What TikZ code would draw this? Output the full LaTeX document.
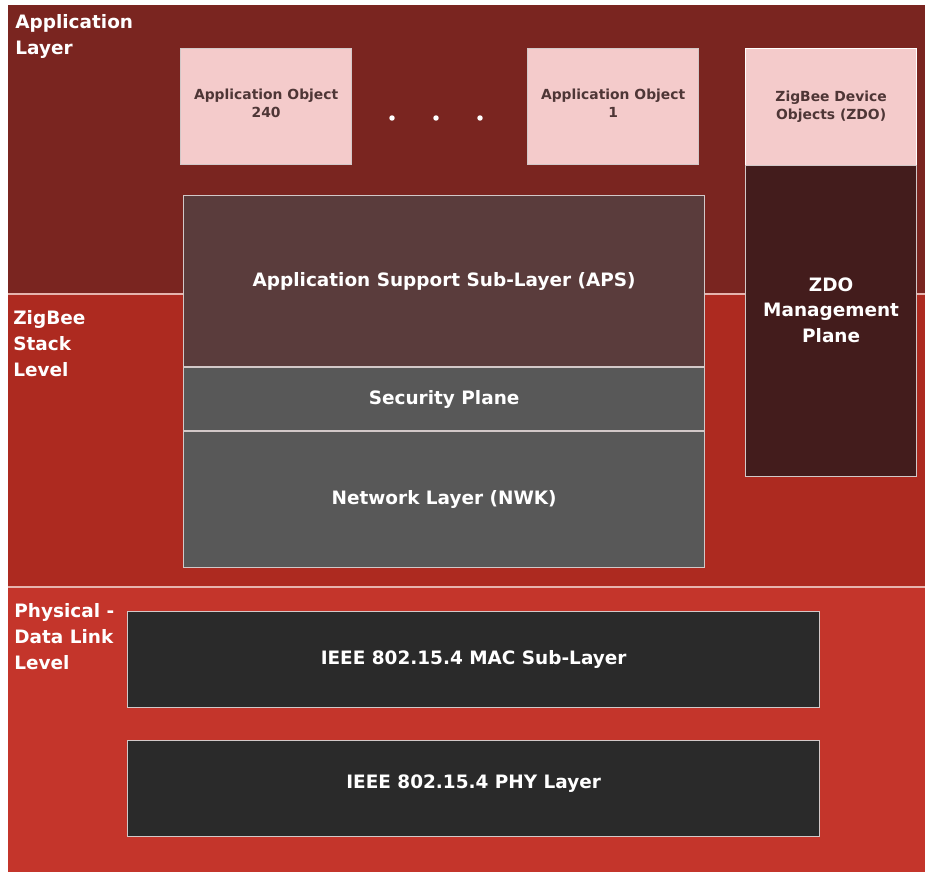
\documentclass[tikz,border=0pt]{standalone}
\usepackage{fontspec}
\setmainfont{DejaVu Sans}
\usepackage{xcolor}
\usepackage{tikz}
\usetikzlibrary{calc}
\definecolor{appbg}{HTML}{7A2520}
\definecolor{stackbg}{HTML}{AD2A20}
\definecolor{physbg}{HTML}{C4352B}
\definecolor{objfill}{HTML}{F4CBCB}
\definecolor{objtext}{HTML}{4E3636}
\definecolor{apsfill}{HTML}{5A3C3C}
\definecolor{nwkfill}{HTML}{585858}
\definecolor{mgmtfill}{HTML}{431C1C}
\definecolor{macfill}{HTML}{2A2A2A}
\definecolor{edge}{HTML}{D2C8C8}
\definecolor{seam}{HTML}{E6B4AE}
\tikzset{
  sep/.style={draw=seam, line width=0.5mm},
  box/.style={draw=edge, line width=0.25mm, anchor=north west, inner sep=0pt, align=center},
  obj/.style={box, fill=objfill, text=objtext, font=\fontsize{7.9}{10.2}\selectfont\bfseries,
    minimum width=34.2mm, minimum height=23.2mm},
  stack/.style={box, text=white, font=\fontsize{10.5}{14.7}\selectfont\bfseries, minimum width=104.2mm},
  link/.style={box, fill=macfill, text=white, font=\fontsize{10.5}{14.7}\selectfont\bfseries,
    minimum width=138.4mm, minimum height=19.1mm},
  dot/.style={circle, fill=white, inner sep=1.1pt},
  lab/.style={anchor=north west, inner sep=0pt, align=left, text=white,
    font=\fontsize{10.5}{14.7}\selectfont\bfseries},
  mlab/.style={inner sep=0pt, align=center, text=white,
    font=\fontsize{10.5}{14.7}\selectfont\bfseries},
}
\begin{document}
\begin{tikzpicture}[x=0.2mm, y=-0.2mm]
  \fill[white] (0,0) rectangle (925,872);
  \useasboundingbox (0,0) rectangle (925,872);
  % three levels
  \fill[appbg] (8,5) rectangle (925,294);
  \fill[stackbg] (8,294) rectangle (925,587);
  \fill[physbg] (8,587) rectangle (925,872);
  \draw[sep] (8,294) -- (925,294);
  \draw[sep] (8,587) -- (925,587);
  \node[lab] (lapp) at (15,14) {Application\\Layer};
  \node[lab] (lstack) at (13,310) {ZigBee\\Stack\\Level};
  \node[lab] (lphys) at (14,603) {Physical -\\Data Link\\Level};
  % application objects
  \node[obj, text depth=1.2mm] (obj240) at (180,48) {Application Object\\240};
  \foreach \x in {392,436,480} \node[dot] (d\x) at (\x,118) {};
  \node[obj, text depth=1.2mm] (obj1) at (527,48) {Application Object\\1};
  \node[obj, draw=white, minimum height=23.4mm] (zdo) at (745,48) {ZigBee Device\\Objects (ZDO)};
  \node[box, fill=mgmtfill, minimum width=34.2mm, minimum height=62.2mm] (zdomgmt) at (745,165) {};
  \node[mlab] (mgmtlab) at ($(zdomgmt.center)+(0,-11)$) {ZDO\\Management\\Plane};
  % stack
  \node[stack, fill=apsfill, minimum height=34.2mm] (aps) at (183,195) {Application Support Sub-Layer (APS)};
  \node[stack, fill=nwkfill, minimum height=12.6mm] (sec) at (183,367) {Security Plane};
  \node[stack, fill=nwkfill, minimum height=27.2mm] (nwk) at (183,431) {Network Layer (NWK)};
  % 802.15.4
  \node[link] (mac) at (127,611) {IEEE 802.15.4 MAC Sub-Layer};
  \node[link, text depth=2.6mm] (phy) at (127,740) {IEEE 802.15.4 PHY Layer};
\end{tikzpicture}
\end{document}
